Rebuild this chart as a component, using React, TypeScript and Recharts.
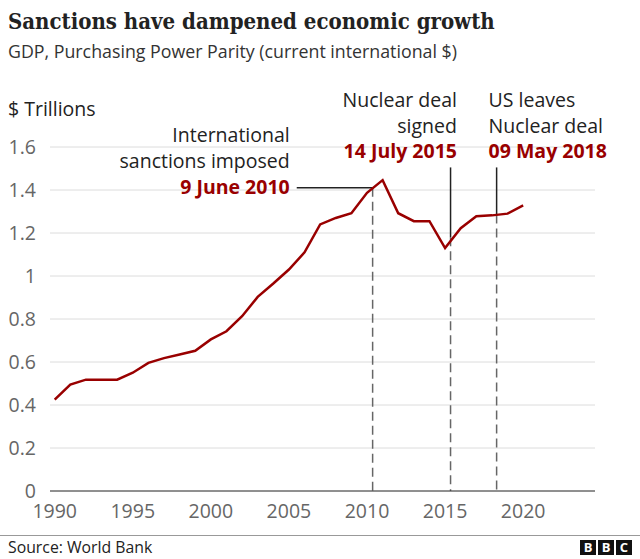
import {
  LineChart, Line, XAxis, YAxis, CartesianGrid, ReferenceLine,
} from 'recharts';

const YEARS = [
  1990, 1991, 1992, 1993, 1994, 1995, 1996, 1997, 1998, 1999,
  2000, 2001, 2002, 2003, 2004, 2005, 2006, 2007, 2008, 2009,
  2010, 2011, 2012, 2013, 2014, 2015, 2016, 2017, 2018, 2019, 2020,
];
// GDP PPP, $ trillions
const GDP = [
  0.425, 0.495, 0.518, 0.518, 0.518, 0.55, 0.596, 0.618, 0.635, 0.652,
  0.705, 0.743, 0.813, 0.903, 0.965, 1.03, 1.11, 1.24, 1.27, 1.292,
  1.387, 1.446, 1.292, 1.255, 1.255, 1.13, 1.222, 1.278, 1.282, 1.29, 1.328,
];
const X_TICKS = [1990, 1995, 2000, 2005, 2010, 2015, 2020];
const Y_TICKS = [0, 0.2, 0.4, 0.6, 0.8, 1, 1.2, 1.4, 1.6];

// events: fractional year positions
const SANCTIONS = 2010.36;
const DEAL = 2015.35;
const US_LEAVES = 2018.3;

const data = YEARS.map((year, i) => ({ year, value: GDP[i] }));

const RED = '#990000';
const SANS = '"Open Sans", "Noto Sans", sans-serif';
const FS = 19.5;

// multi-line annotation drawn relative to the reference line's box
// eslint-disable-next-line @typescript-eslint/no-explicit-any
function AnnLabel(props: any) {
  const { viewBox, lines, anchor, dx, dy } = props;
  if (!viewBox) return null;
  const x = viewBox.x + dx;
  const base = viewBox.y + dy;
  const n = lines.length;
  return (
    <g>
      {lines.map((t: string, i: number) => (
        <text
          key={i}
          x={x}
          y={base - (n - 1 - i) * 25.8}
          textAnchor={anchor}
          fontFamily={SANS}
          fontSize={FS}
          fontWeight={i === n - 1 ? 700 : 400}
          fill={i === n - 1 ? RED : '#222'}
        >
          {t}
        </text>
      ))}
    </g>
  );
}

export default function App() {
  return (
    <div style={{ position: 'absolute', left: 0, top: 0, width: 640, height: 559, background: '#fff', overflow: 'hidden' }}>
      <div style={{ position: 'absolute', left: 8, top: 10, fontFamily: '"DejaVu Serif Condensed", "DejaVu Serif", serif', fontWeight: 700, fontSize: 22, lineHeight: '22px', color: '#222', whiteSpace: 'nowrap' }}>
        Sanctions have dampened economic growth
      </div>
      <div style={{ position: 'absolute', left: 8, top: 42.5, fontFamily: SANS, fontSize: 17.8, lineHeight: '17.8px', color: '#333', whiteSpace: 'nowrap' }}>
        GDP, Purchasing Power Parity (current international $)
      </div>
      <div style={{ position: 'absolute', left: 8, top: 99, fontFamily: SANS, fontSize: FS, lineHeight: `${FS}px`, color: '#222', whiteSpace: 'nowrap' }}>
        $ Trillions
      </div>

      <div style={{ position: 'absolute', left: 0, top: 0 }}>
        <LineChart width={640} height={535} data={data} margin={{ top: 147, right: 45, bottom: 14, left: 0 }}>
          <CartesianGrid vertical={false} stroke="#dcdcdc" />
          <XAxis
            dataKey="year"
            type="number"
            domain={[1989.7, 2024.6]}
            ticks={X_TICKS}
            allowDataOverflow
            axisLine={{ stroke: '#333' }}
            tickLine={false}
            tickMargin={7}
            height={30}
            tick={{ fill: '#666', fontSize: FS, fontFamily: SANS }}
          />
          <YAxis
            type="number"
            domain={[0, 1.6]}
            ticks={Y_TICKS}
            axisLine={false}
            tickLine={false}
            tickMargin={8}
            width={50}
            tick={{ fill: '#666', fontSize: FS, fontFamily: SANS }}
          />

          {/* dashed drop lines */}
          <ReferenceLine segment={[{ x: SANCTIONS, y: 1.41 }, { x: SANCTIONS, y: 0 }]} stroke="#666" strokeWidth={1.5} strokeDasharray="9 5" />
          <ReferenceLine segment={[{ x: DEAL, y: 1.18 }, { x: DEAL, y: 0 }]} stroke="#666" strokeWidth={1.5} strokeDasharray="9 5" />
          <ReferenceLine segment={[{ x: US_LEAVES, y: 1.286 }, { x: US_LEAVES, y: 0 }]} stroke="#666" strokeWidth={1.5} strokeDasharray="9 5" />

          {/* solid leader lines with labels */}
          <ReferenceLine
            segment={[{ x: 2005.5, y: 1.41 }, { x: SANCTIONS, y: 1.41 }]}
            stroke="#222"
            strokeWidth={1.5}
            label={<AnnLabel lines={['International', 'sanctions imposed', '9 June 2010']} anchor="end" dx={-7} dy={6} />}
          />
          <ReferenceLine
            segment={[{ x: DEAL, y: 1.505 }, { x: DEAL, y: 1.18 }]}
            stroke="#222"
            strokeWidth={1.5}
            label={<AnnLabel lines={['Nuclear deal', 'signed', '14 July 2015']} anchor="end" dx={6.4} dy={-9} />}
          />
          <ReferenceLine
            segment={[{ x: US_LEAVES, y: 1.505 }, { x: US_LEAVES, y: 1.286 }]}
            stroke="#222"
            strokeWidth={1.5}
            label={<AnnLabel lines={['US leaves', 'Nuclear deal', '09 May 2018']} anchor="start" dx={-8} dy={-9} />}
          />

          <Line
            type="linear"
            dataKey="value"
            stroke={RED}
            strokeWidth={2.5}
            dot={false}
            isAnimationActive={false}
          />
        </LineChart>
      </div>

      <div style={{ position: 'absolute', left: 0, top: 535, width: 640, height: 1, background: '#999' }} />
      <div style={{ position: 'absolute', left: 8, top: 540, fontFamily: SANS, fontSize: 15.8, lineHeight: '15.8px', color: '#222', whiteSpace: 'nowrap' }}>
        Source: World Bank
      </div>
      {['B', 'B', 'C'].map((ch, i) => (
        <div key={i} style={{ position: 'absolute', left: 580 + i * 18, top: 540, width: 16, height: 15, background: '#111', color: '#fff', fontFamily: SANS, fontWeight: 700, fontSize: 13, lineHeight: '15px', textAlign: 'center' }}>
          {ch}
        </div>
      ))}
    </div>
  );
}
